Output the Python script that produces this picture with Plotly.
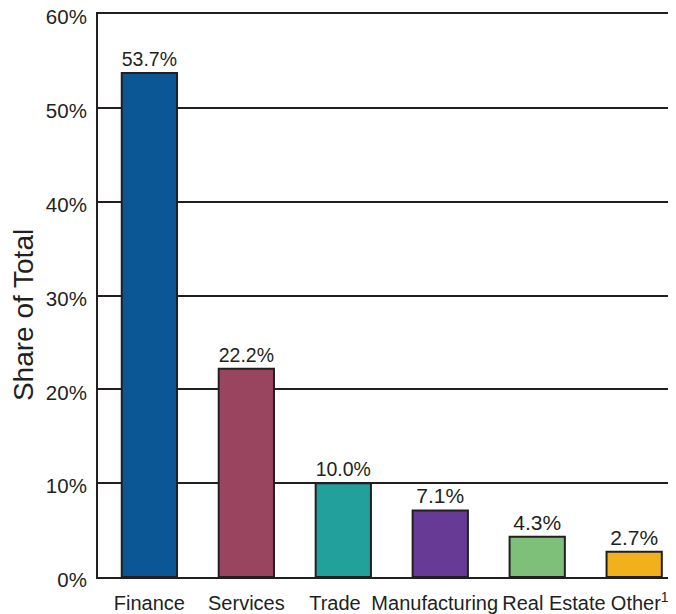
import plotly.graph_objects as go

NB = "&nbsp;"
categories = ["Finance", "Services", "Trade", "Manufacturing", "Real Estate", "Other<sup>1</sup>"]
# small padding to mimic the reference's hand-placed category labels
tick_labels = ["Finance", "Services", "Trade" + NB * 3, "Manufacturing" + NB * 2,
               NB * 6 + "Real Estate", NB * 2 + "Other<sup>1</sup>"]
shares = [53.7, 22.2, 10.0, 7.1, 4.3, 2.7]
labels = ["53.7%", "22.2%", "10.0%", "7.1%", "4.3%", "2.7%"]
colors = ["#0b5694", "#9a4560", "#22a09c", "#663a95", "#7ebf7a", "#f0b11d"]
tick_vals = [0, 10, 20, 30, 40, 50, 60]
tick_text = ["0%", "10%", "20%", "30%", "40%", "50%", "60%"]

fig = go.Figure(go.Bar(
    x=list(range(len(categories))),
    y=shares,
    text=labels,
    textposition="outside",
    cliponaxis=False,
    textfont=dict(size=21, color="#231f20"),
    marker=dict(color=colors, line=dict(color="#231f20", width=2)),
    width=0.57,
))

# page body adds an 8px offset; margins compensate so the plot lands at x 98-672, y 14-577
fig.update_layout(
    width=676, height=614,
    margin=dict(l=90, r=12, t=6, b=45),
    paper_bgcolor="white", plot_bgcolor="white",
    font=dict(family="Liberation Sans, Arial, sans-serif", color="#231f20"),
    showlegend=False,
)
fig.update_xaxes(
    tickvals=list(range(len(categories))), ticktext=tick_labels,
    range=[-0.53, 5.39], tickangle=0, automargin=False, ticklabeloverflow="allow",
    showline=True, linecolor="#231f20", linewidth=2, mirror=True,
    showgrid=False, ticks="", tickfont=dict(size=20), ticklabelstandoff=7,
)
fig.update_yaxes(
    range=[0, 60], tickvals=tick_vals, ticktext=tick_text, automargin=False,
    ticklabeloverflow="allow", ticklabelshift=3,
    showline=True, linecolor="#231f20", linewidth=2, mirror=True,
    showgrid=True, gridcolor="#231f20", gridwidth=1.5,
    ticks="", tickfont=dict(size=20.5), zeroline=False, ticklabelstandoff=5,
    title=dict(text="Share of Total" + NB * 5, font=dict(size=28), standoff=8),
)
fig.write_html("out.html")
